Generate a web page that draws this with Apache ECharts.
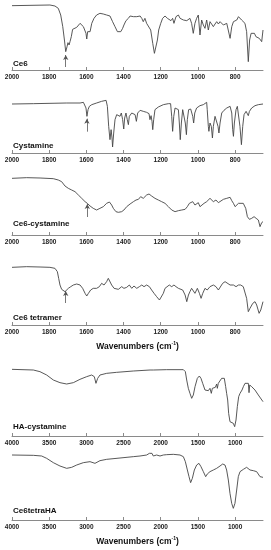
<!DOCTYPE html>
<html><head><meta charset="utf-8">
<script src="https://cdn.jsdelivr.net/npm/echarts@6/dist/echarts.min.js"></script>
<style>html,body{margin:0;padding:0;background:#fff}#c{width:271px;height:550px}</style>
</head><body><div id="c"></div>
<script>
// ---- data (wavenumber cm-1, relative transmittance) ----
const ce6Wn = [2000,1796,1769,1751,1738,1727,1718,1711,1704,1699,1693,1688,1681,1674,1667,1652,1634,1625,1616,1607,1602,1598,1593,1588,1580,1571,1559,1545,1527,1509,1491,1473,1459,1446,1433,1426,1415,1405,1398,1387,1374,1365,1356,1347,1338,1329,1320,1311,1302,1294,1285,1276,1267,1254,1243,1234,1225,1218,1211,1200,1190,1177,1164,1154,1145,1136,1129,1118,1105,1096,1087,1078,1069,1060,1051,1043,1034,1025,1016,1007,998,989,980,971,962,953,944,935,926,917,908,899,890,881,872,863,854,845,836,827,818,809,800,791,782,774,765,756,747,738,729,722,714,705,696,688,680,670,657,650];
const ce6T = [193,195,192,185,165,130,90,55,70,82,75,85,100,122,125,128,140,144,130,125,110,93,115,120,115,140,155,165,170,168,165,162,145,130,115,110,115,125,135,148,155,162,165,160,165,160,155,162,155,145,155,140,135,120,80,50,55,90,120,140,155,162,155,160,148,155,140,160,165,155,160,150,155,148,145,155,140,110,140,155,165,105,150,135,125,150,120,145,145,130,138,145,138,145,140,135,130,140,145,95,130,145,140,150,160,155,150,145,140,115,25,90,110,115,110,100,105,95,85,120];

const cysWn = [2000,1885,1706,1634,1625,1616,1607,1602,1597,1591,1584,1571,1545,1518,1494,1487,1480,1473,1467,1462,1459,1453,1446,1437,1428,1419,1412,1405,1399,1394,1387,1380,1374,1369,1356,1347,1338,1331,1324,1311,1294,1276,1263,1258,1252,1247,1243,1238,1231,1213,1186,1159,1147,1141,1136,1130,1123,1114,1105,1100,1095,1089,1082,1075,1068,1062,1057,1050,1039,1028,1023,1017,1007,989,971,962,953,950,944,941,935,928,922,917,908,899,892,887,881,872,860,845,827,818,813,809,804,795,788,781,774,766,759,752,741,729,723,711,693,675,650];
const cysT = [147,148,150,150,145,152,150,135,110,130,140,145,150,155,158,140,80,40,70,45,18,60,100,115,120,110,120,100,72,105,120,100,85,110,120,125,115,95,120,128,125,122,118,100,112,95,70,100,130,138,145,148,148,110,65,110,135,140,130,90,40,90,130,125,90,55,100,130,132,110,90,120,135,142,145,148,152,130,80,65,90,80,45,80,110,110,80,60,90,120,128,135,140,120,70,50,90,130,140,135,80,25,80,115,125,112,125,135,142,145,147];

const ce6CysWn = [2000,1921,1849,1778,1751,1733,1715,1697,1679,1661,1643,1625,1607,1595,1580,1563,1545,1527,1509,1491,1476,1464,1455,1441,1428,1410,1398,1383,1365,1347,1333,1320,1308,1294,1276,1263,1249,1231,1213,1195,1177,1159,1141,1123,1105,1087,1069,1057,1046,1039,1028,1016,1007,998,989,980,967,953,935,917,903,890,881,863,845,836,827,818,809,800,791,782,774,756,743,734,723,711,698,687,675,666,657,650];
const ce6CysT = [170,172,171,169,165,160,147,140,135,130,120,110,100,95,87,80,75,80,85,95,99,90,80,70,68,70,75,85,93,100,105,107,115,110,120,123,117,110,105,100,95,85,75,70,73,75,77,85,95,90,100,90,93,97,85,90,95,100,110,100,105,97,103,107,110,105,113,103,95,85,90,95,90,95,80,55,47,50,55,50,45,25,37,40];

const tetWn = [2000,1921,1849,1796,1769,1756,1749,1742,1733,1715,1706,1697,1684,1670,1652,1634,1620,1607,1598,1589,1577,1563,1545,1530,1518,1505,1491,1482,1473,1464,1451,1441,1428,1410,1398,1383,1369,1356,1344,1329,1315,1302,1290,1276,1261,1249,1236,1222,1207,1197,1186,1177,1168,1154,1141,1129,1118,1105,1096,1082,1069,1060,1051,1043,1034,1025,1016,1003,992,983,974,962,950,935,917,903,890,881,867,854,845,827,809,795,782,770,756,747,738,729,720,705,693,684,671,662,650];
const tetT = [173,175,174,173,170,160,140,120,107,100,105,110,115,120,123,120,110,95,87,95,105,110,110,115,125,120,130,140,135,120,110,115,107,115,110,113,120,110,117,110,115,120,115,120,115,105,95,85,75,77,95,110,115,120,115,120,115,110,115,105,90,70,90,100,110,105,95,110,95,80,95,110,105,115,120,115,105,110,125,130,125,120,120,115,120,120,115,110,80,40,50,65,70,60,35,45,70];

const haCysWn = [4000,3713,3624,3534,3444,3355,3265,3175,3086,2996,2929,2893,2871,2848,2817,2727,2593,2369,2144,2122,2100,1920,1696,1669,1651,1629,1607,1584,1562,1539,1508,1481,1459,1436,1405,1383,1360,1338,1320,1306,1284,1266,1248,1239,1226,1203,1181,1158,1145,1127,1114,1100,1087,1069,1046,1024,1006,988,970,952,934,921,907,889,867,845,822,813,804,777,733,688,625];
const haCysT = [200,198,193,183,168,160,156,160,170,178,183,178,158,173,183,188,191,195,198,201,198,199,199,193,168,143,128,113,123,148,173,180,173,158,138,133,136,143,128,143,148,146,156,143,158,163,173,178,173,148,128,108,68,43,48,38,28,48,88,118,128,123,138,148,158,163,158,130,153,148,138,123,103];

const tetHaWn = [4000,3713,3601,3534,3444,3355,3265,3198,3130,3041,2951,2884,2862,2817,2727,2548,2369,2279,2189,2153,2135,2118,2100,2055,2010,1988,1965,1943,1920,1831,1741,1696,1669,1642,1620,1598,1575,1548,1517,1486,1459,1427,1396,1374,1338,1293,1248,1203,1167,1136,1114,1091,1069,1046,1024,1002,979,957,934,912,889,867,845,822,800,777,755,733,710,665,625];
const tetHaT = [195,194,192,185,172,162,155,158,165,172,175,170,172,178,182,186,190,192,195,200,195,200,192,195,192,198,195,200,196,197,195,190,175,150,130,112,125,150,165,170,160,145,130,138,145,150,155,162,168,165,150,120,80,50,35,50,90,130,145,150,152,155,158,155,150,152,148,150,145,130,128];

const midTicks = [2000,1800,1600,1400,1200,1000,800];
const wideTicks = [4000,3500,3000,2500,2000,1500,1000];
const panelNames = ['Ce6','Cystamine','Ce6-cystamine','Ce6 tetramer','HA-cystamine','Ce6tetraHA'];
// arrows: [panel, wavenumber, from T, to T]
const arrowMarks = [[0,1711,9,45],[1,1597,64,103],[2,1595,54,93],[3,1711,66,102]];

// ---- layout ----
const axisY = [70,153,235,325,436,520];
const H = 70;
const FONT = '"Liberation Sans", Arial, sans-serif';
const seriesData = [[ce6Wn,ce6T],[cysWn,cysT],[ce6CysWn,ce6CysT],[tetWn,tetT],[haCysWn,haCysT],[tetHaWn,tetHaT]];
const ranges = [[650,2000],[650,2000],[650,2000],[650,2000],[625,4000],[625,4000]];
const titled = [false,false,false,true,false,true];

const grids=[],xAxes=[],yAxes=[],series=[],graphics=[];
for(let i=0;i<6;i++){
  grids.push({left:12,right:8,top:axisY[i]-H,height:H});
  const ticks = i<4?midTicks:wideTicks;
  const xa = {type:'value',gridIndex:i,inverse:true,min:ranges[i][0],max:ranges[i][1],
    axisLine:{lineStyle:{color:'#8a8a8a',width:1}},
    axisTick:{show:true,inside:true,length:3,lineStyle:{color:'#8a8a8a'},customValues:ticks},
    axisLabel:{customValues:ticks,formatter:v=>String(v),fontSize:6.5,fontWeight:'bold',color:'#222',fontFamily:FONT,margin:4},
    splitLine:{show:false}};
  if(titled[i]){
    xa.name='{a|Wavenumbers (cm}{s|-1}{a|)}';
    xa.nameLocation='middle';xa.nameGap=16;
    xa.nameTextStyle={rich:{a:{fontSize:8.5,fontWeight:'bold',color:'#111',fontFamily:FONT},
      s:{fontSize:5,fontWeight:'bold',color:'#111',fontFamily:FONT,padding:[0,0,6,0]}}};
  }
  xAxes.push(xa);
  yAxes.push({type:'value',gridIndex:i,min:0,max:210,show:false});
  const [wn,t]=seriesData[i];
  const s={type:'line',xAxisIndex:i,yAxisIndex:i,data:wn.map((w,k)=>[w,t[k]]),
    showSymbol:false,symbol:'none',smooth:false,lineStyle:{color:'#454545',width:0.9},silent:true};
  const arr=arrowMarks.filter(a=>a[0]===i);
  if(arr.length){
    s.markLine={silent:true,symbol:['none','arrow'],symbolSize:[4,5],label:{show:false},
      lineStyle:{color:'#555',width:0.8,type:'solid'},
      data:arr.map(a=>[{coord:[a[1],a[2]]},{coord:[a[1],a[3]]}])};
  }
  series.push(s);
  graphics.push({type:'text',left:13,top:axisY[i]-(i===0?10:i===1?11:i===2?15:i===3?11:13),
    style:{text:panelNames[i],font:'bold 8px '+FONT,fill:'#111'}});
}
const chart=echarts.init(document.getElementById('c'),null,{renderer:'canvas'});
chart.setOption({animation:false,grid:grids,xAxis:xAxes,yAxis:yAxes,series:series,graphic:graphics});
</script></body></html>
